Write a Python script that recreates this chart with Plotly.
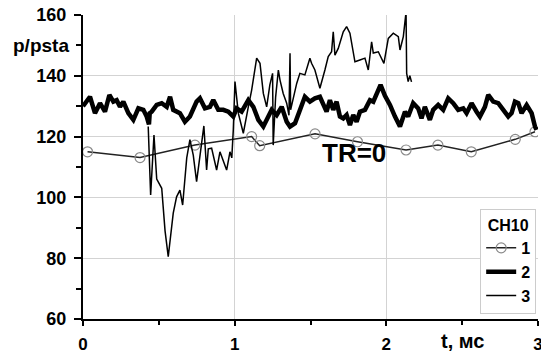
import plotly.graph_objects as go

# Series 1 (circles)
s1_x = [0.03, 0.376, 0.738, 1.112, 1.165, 1.53, 1.81, 2.13, 2.34, 2.56, 2.85, 2.98]
s1_y = [115, 113.1, 117.2, 120, 117, 120.9, 118.3, 115.6, 117.2, 115, 119.1, 121.6]

# Series 2 (thick)
s2_x = [0, 0.046, 0.079, 0.112, 0.145, 0.174, 0.2, 0.222, 0.244, 0.266, 0.299, 0.332, 0.365,
        0.398, 0.42, 0.435, 0.44, 0.453, 0.486, 0.519, 0.552, 0.574, 0.595, 0.639, 0.672, 0.705,
        0.749, 0.771, 0.804, 0.837, 0.859, 0.892, 0.925, 0.958, 0.991, 1.013, 1.046, 1.09, 1.123,
        1.156, 1.189, 1.222, 1.244, 1.277, 1.31, 1.343, 1.365, 1.398, 1.43, 1.463, 1.496, 1.529,
        1.562, 1.584, 1.606, 1.628, 1.65, 1.672, 1.694, 1.716, 1.738, 1.76, 1.782, 1.804, 1.826,
        1.859, 1.892, 1.914, 1.947, 1.962, 1.991, 2.024, 2.057, 2.09, 2.123, 2.144, 2.177, 2.21,
        2.232, 2.254, 2.287, 2.309, 2.342, 2.375, 2.408, 2.441, 2.474, 2.507, 2.529, 2.562, 2.595,
        2.617, 2.65, 2.672, 2.705, 2.738, 2.771, 2.804, 2.826, 2.848, 2.87, 2.892, 2.925, 2.958,
        2.98, 2.99]
s2_y = [130, 133.1, 127.7, 131, 128.2, 133.7, 131.5, 132, 129.8, 131.5, 127.7, 125.5, 129.3,
        128.8, 126.6, 124, 127.7, 128.2, 130.4, 131, 129.8, 133.1, 128.8, 127.7, 124.9, 126.6,
        131.5, 132.6, 129.3, 129.8, 132, 128.8, 128.8, 128.2, 126.6, 129.3, 128.2, 132, 129.8,
        125.5, 123.3, 126.6, 128.8, 127.1, 129.8, 124.9, 123.3, 124.4, 128.8, 133.1, 131.5, 132.6,
        133.1, 130.4, 128.2, 132, 128.8, 131.5, 126.6, 126, 127.1, 123.8, 127.1, 124.9, 128.2,
        128.8, 132, 131.5, 135.9, 137, 133.4, 130.4, 126.6, 123.3, 128.2, 126.6, 131, 129.3,
        126, 129.8, 125.5, 128.8, 130.4, 128.8, 132.6, 131, 128.8, 129.3, 127.7, 131, 128.2,
        126.6, 129.8, 133.7, 131.5, 131, 128.8, 126.6, 127.7, 131.5, 131, 127.7, 130.4, 127.7,
        123.3, 122.2]

# Series 3 (thin)
s3_x = [0.43, 0.446, 0.468, 0.486, 0.519, 0.541, 0.562, 0.578, 0.595, 0.617, 0.639, 0.657,
        0.684, 0.705, 0.727, 0.749, 0.771, 0.797, 0.815, 0.826, 0.848, 0.881, 0.903, 0.947, 0.969,
        0.981, 0.991, 1.002, 1.024, 1.057, 1.09, 1.112, 1.145, 1.167, 1.189, 1.211, 1.232, 1.25,
        1.254, 1.27, 1.288, 1.299, 1.32, 1.343, 1.358, 1.365, 1.369, 1.387, 1.409, 1.43, 1.463,
        1.496, 1.507, 1.529, 1.562, 1.595, 1.617, 1.639, 1.65, 1.661, 1.683, 1.716, 1.738, 1.76,
        1.793, 1.826, 1.859, 1.881, 1.903, 1.914, 1.947, 1.984, 2.013, 2.046, 2.079, 2.09, 2.112,
        2.13, 2.134, 2.144, 2.155, 2.166]
s3_y = [123.3, 100.8, 120.5, 106, 103, 89, 80.5, 88, 94.8, 100.2, 102.4, 97.5,
        113, 119, 113.9, 105.2, 114, 123.5, 109, 116, 116.2, 109, 115, 109, 115,
        113, 122.2, 138.1, 127.7, 121.1, 129.8, 135.3, 145.8, 144.1, 134.2, 129.8, 137, 140.8,
        117.2, 133, 141.9, 138.6, 134.2, 131, 127, 147.4, 128.8, 133.1, 137.5, 140.8, 140.3,
        145.8, 144.1, 141.9, 135.9, 141.9, 146.3, 147.9, 154.5, 146.8, 149, 154.5, 156.2, 154,
        144.6, 145.2, 145.8, 141.9, 151.2, 147.5, 147.9, 144.1, 152.3, 154, 152.9, 148.5, 152.9,
        161, 140.8, 138.1, 140, 138]

x_ticks = [0, 1, 2, 3]
y_ticks = [60, 80, 100, 120, 140, 160]

FONT = "Liberation Sans, Arial, sans-serif"

fig = go.Figure()
fig.add_trace(go.Scatter(x=s1_x, y=s1_y, mode="lines+markers", name="1",
                         line=dict(color="#222222", width=1.5),
                         marker=dict(symbol="circle-open", size=10, color="#8a8a8a",
                                     line=dict(width=1.2, color="#8a8a8a"))))
fig.add_trace(go.Scatter(x=s2_x, y=s2_y, mode="lines", name="2",
                         line=dict(color="black", width=4.5)))
fig.add_trace(go.Scatter(x=s3_x, y=s3_y, mode="lines", name="3",
                         line=dict(color="black", width=1.5)))

fig.add_annotation(x=-0.026, xref="paper", y=150, yref="y", text="<b>p/psta</b>",
                   showarrow=False, xanchor="right", yanchor="middle",
                   font=dict(family=FONT, size=19, color="black"))
fig.add_annotation(x=2.5, xref="x", y=-0.074, yref="paper", text="<b>t, мс</b>",
                   showarrow=False, xanchor="center", yanchor="middle",
                   font=dict(family=FONT, size=20, color="black"))
fig.add_annotation(x=1.787, xref="x", y=114.6, yref="y", text="<b>TR=0</b>",
                   showarrow=False, xanchor="center", yanchor="middle",
                   font=dict(family=FONT, size=26, color="black"))

fig.update_layout(
    width=541, height=354,
    margin=dict(l=83, r=3, t=15, b=35),
    paper_bgcolor="white", plot_bgcolor="white",
    showlegend=True,
    legend=dict(x=0.996, xanchor="right", y=0.016, yanchor="bottom",
                bgcolor="white", bordercolor="#cccccc", borderwidth=1,
                font=dict(family=FONT, size=16, color="black", weight="bold"),
                title=dict(text="<b>CH10</b>", side="top center",
                           font=dict(family=FONT, size=16, color="black")),
                tracegroupgap=2, itemwidth=30),
    xaxis=dict(range=[0, 3], tickvals=x_ticks, ticktext=[str(v) for v in x_ticks],
               automargin=False, ticklabeloverflow="allow",
               showgrid=True, gridcolor="#d3d3d3", gridwidth=1, zeroline=False,
               showline=True, linecolor="black", linewidth=2,
               ticks="outside", ticklen=5, tickwidth=2, tickcolor="black",
               ticklabelstandoff=4,
               minor=dict(dtick=0.5, ticks="outside", ticklen=4, tickwidth=2,
                          tickcolor="black", showgrid=False),
               tickfont=dict(family=FONT, size=17, color="black", weight="bold")),
    yaxis=dict(range=[60, 160], tickvals=y_ticks, ticktext=[str(v) for v in y_ticks],
               automargin=False,
               showgrid=True, gridcolor="#d3d3d3", gridwidth=1, zeroline=False,
               showline=True, linecolor="black", linewidth=2,
               ticks="outside", ticklen=7, tickwidth=2, tickcolor="black",
               ticklabelstandoff=4,
               minor=dict(dtick=10, ticks="outside", ticklen=5, tickwidth=2,
                          tickcolor="black", showgrid=False),
               tickfont=dict(family=FONT, size=18, color="black", weight="bold")),
)

fig.write_html("out.html", config={"displayModeBar": False},
               post_script="document.body.style.margin='0px';document.body.style.overflow='hidden';")
